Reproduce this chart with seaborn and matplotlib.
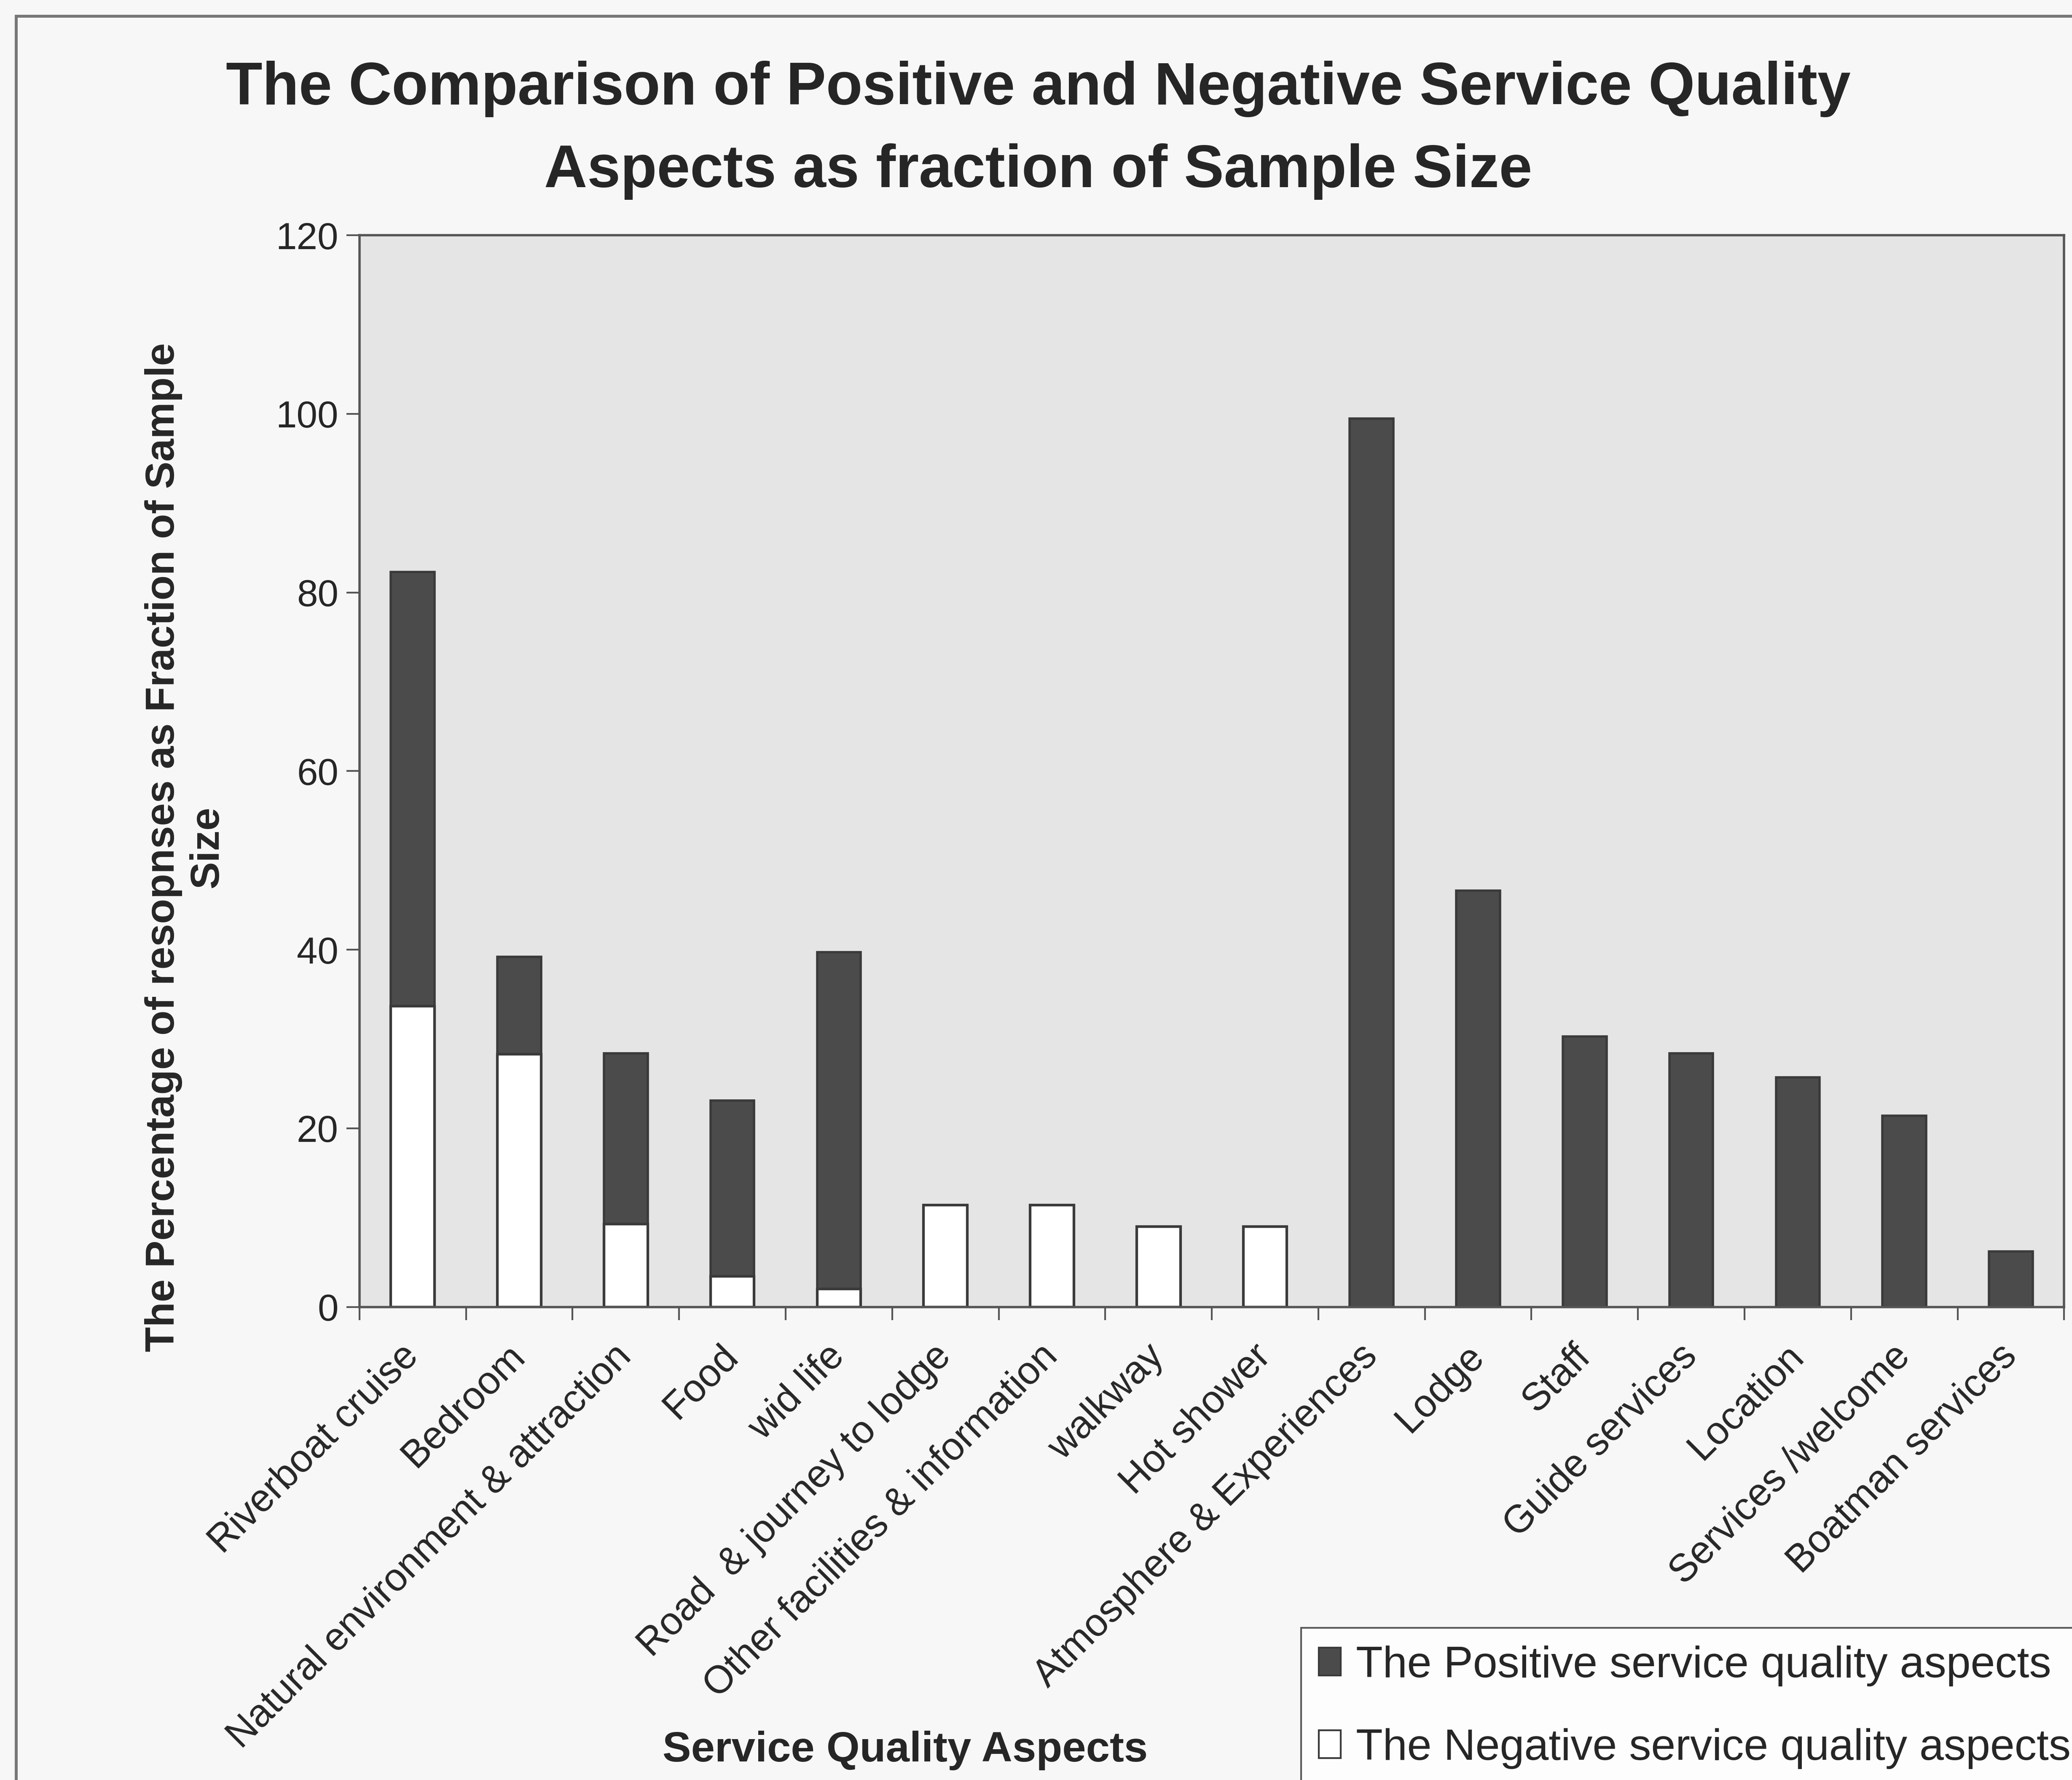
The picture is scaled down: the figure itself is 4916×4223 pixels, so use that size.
import numpy as np
import pandas as pd
import seaborn as sns
import matplotlib.pyplot as plt
from matplotlib.patches import Patch, Rectangle

# --- data ---
aspects = ["Riverboat cruise", "Bedroom", "Natural environment & attraction", "Food",
           "wid life", "Road  & journey to lodge", "Other facilities & information",
           "walkway", "Hot shower", "Atmosphere & Experiences", "Lodge", "Staff",
           "Guide services", "Location", "Services /welcome", "Boatman services"]
positive = [48.6, 10.9, 19.1, 19.7, 37.7, 0, 0, 0, 0, 99.5, 46.6, 30.3, 28.4, 25.7, 21.4, 6.2]
negative = [33.7, 28.3, 9.3, 3.4, 2.0, 11.4, 11.4, 9.0, 9.0, 0, 0, 0, 0, 0, 0, 0]
y_ticks = [0, 20, 40, 60, 80, 100, 120]

title = "The Comparison of Positive and Negative Service Quality\nAspects as fraction of Sample Size"
y_label = "The Percentage of resopnses as Fraction of Sample\nSize"
x_label = "Service Quality Aspects"
legend_labels = ["The Positive service quality aspects", "The Negative service quality aspects"]

df = pd.DataFrame({"aspect": aspects, "positive": positive, "negative": negative})
df["total"] = df["positive"] + df["negative"]

# --- style ---
sns.set_style("white")
plt.rcParams['font.family'] = ['Liberation Sans', 'DejaVu Sans']

dark = "#4b4b4b"
edge = "#3a3a3a"

fig = plt.figure(figsize=(49.16, 42.23), dpi=100, facecolor="#f7f7f7")
ax = fig.add_axes([0.1735, 0.2658, 0.8227, 0.602])
ax.set_facecolor("#e5e5e5")

# positive stacked on top of negative: draw totals, then negatives over them
sns.barplot(data=df, x="aspect", y="total", color=dark, saturation=1, width=0.41,
            edgecolor=edge, linewidth=4, ax=ax)
sns.barplot(data=df, x="aspect", y="negative", color="white", saturation=1, width=0.41,
            edgecolor=edge, linewidth=4.5, ax=ax)

ax.set_ylim(0, 120)
ax.set_xlim(-0.5, len(aspects) - 0.5)
ax.set_yticks(y_ticks)
ax.set_yticklabels([str(v) for v in y_ticks], fontsize=64)
ax.tick_params(axis="y", direction="out", length=22, width=3, color="#555555", pad=14, left=True)

ax.set_xticks(range(len(aspects)))
ax.set_xticklabels(aspects, rotation=45, ha="right", va="center",
                   rotation_mode="anchor", fontsize=66)
ax.tick_params(axis="x", which="major", length=0, pad=75)
ax.set_xticks(np.arange(-0.5, len(aspects), 1), minor=True)
ax.tick_params(axis="x", which="minor", direction="out", length=22, width=3,
               color="#555555", bottom=True)

for s in ax.spines.values():
    s.set_color("#555555")
    s.set_linewidth(4)

ax.set_xlabel(x_label, fontsize=73, fontweight="bold", va="center")
ax.xaxis.set_label_coords(0.32, -0.414)
ax.set_ylabel(y_label, fontsize=70, fontweight="bold", va="center",
              multialignment="center", linespacing=1.2)
ax.yaxis.set_label_coords(-0.102, 0.429)

fig.text(0.501, 0.966, title, ha="center", va="top", fontsize=102,
         fontweight="bold", linespacing=1.6)

# outer chart border (cut off by the scan)
fig.patches.append(Rectangle((0.0077, -0.2), 2, 1.191, transform=fig.transFigure,
                             fill=False, edgecolor="#777777", linewidth=5))

handles = [Patch(facecolor=dark, edgecolor=edge, linewidth=3),
           Patch(facecolor="white", edgecolor=edge, linewidth=3)]
leg = fig.legend(handles, legend_labels, loc="upper left",
                 bbox_to_anchor=(0.628, 0.0854), fontsize=75, frameon=True,
                 fancybox=False, handlelength=0.5, handleheight=0.6,
                 handletextpad=0.35, labelspacing=0.95, borderpad=0.4,
                 borderaxespad=0)
leg.get_frame().set_edgecolor("#333333")
leg.get_frame().set_linewidth(3)
leg.get_frame().set_facecolor("white")

fig.savefig("out.png", dpi=100, facecolor=fig.get_facecolor())
